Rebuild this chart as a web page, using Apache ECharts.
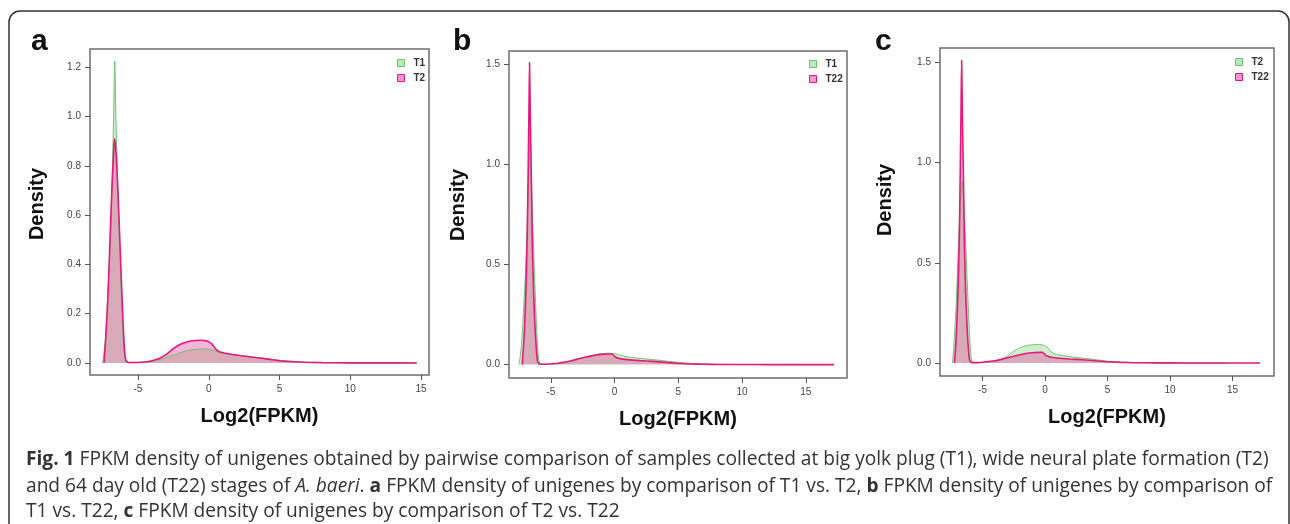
<!DOCTYPE html>
<html>
<head>
<meta charset="utf-8">
<title>FPKM density</title>
<script src="https://cdn.jsdelivr.net/npm/echarts@6/dist/echarts.min.js"></script>
<style>
  html, body { margin: 0; padding: 0; background: #fff; }
  #chart { width: 1290px; height: 524px; }
</style>
</head>
<body>
<div id="chart"></div>
<script>
// density curves, [log2(FPKM), density]
const T1 = [
  [-7.5, 0], [-7.4, 0.04], [-7.3, 0.1], [-7.2, 0.2], [-7.1, 0.32], [-7.0, 0.44],
  [-6.9, 0.6], [-6.8, 0.8], [-6.72, 1.0], [-6.64, 1.225], [-6.56, 1.0], [-6.48, 0.82],
  [-6.4, 0.66], [-6.3, 0.48], [-6.2, 0.32], [-6.1, 0.16], [-6.0, 0.06], [-5.9, 0.015],
  [-5.8, 0.004], [-5.5, 0.001], [-5, 0.002], [-4.5, 0.004], [-4, 0.008], [-3.5, 0.014],
  [-3, 0.022], [-2.5, 0.032], [-2, 0.042], [-1.5, 0.05], [-1, 0.055], [-0.5, 0.057],
  [0, 0.055], [0.4, 0.049], [0.8, 0.041], [1.3, 0.036], [2, 0.031], [3, 0.025],
  [4, 0.018], [5, 0.011], [6, 0.006], [7, 0.003], [8, 0.0015], [9, 0.0007],
  [10, 0.0003], [12, 0.0001], [14.7, 0]
];
const T2 = [
  [-7.4, 0], [-7.3, 0.08], [-7.2, 0.18], [-7.1, 0.3], [-7.0, 0.46], [-6.9, 0.62],
  [-6.8, 0.76], [-6.7, 0.88], [-6.64, 0.91], [-6.55, 0.85], [-6.45, 0.74], [-6.35, 0.6],
  [-6.25, 0.45], [-6.15, 0.3], [-6.05, 0.16], [-5.95, 0.05], [-5.85, 0.01], [-5.7, 0.002],
  [-5, 0.002], [-4.5, 0.004], [-4, 0.009], [-3.5, 0.018], [-3, 0.035], [-2.5, 0.058],
  [-2, 0.076], [-1.5, 0.086], [-1, 0.091], [-0.5, 0.092], [-0.1, 0.088], [0.2, 0.078],
  [0.5, 0.056], [0.8, 0.044], [1.3, 0.038], [2.2, 0.03], [3, 0.024], [3.6, 0.02],
  [4.5, 0.013], [5, 0.009], [6, 0.005], [6.7, 0.003], [8, 0.0012], [10, 0.0004],
  [12, 0.0001], [14.7, 0]
];
const T22 = [
  [-7.25, 0], [-7.15, 0.08], [-7.05, 0.2], [-6.95, 0.38], [-6.85, 0.65], [-6.77, 1.0],
  [-6.72, 1.25], [-6.67, 1.51], [-6.6, 1.2], [-6.53, 0.95], [-6.45, 0.6], [-6.35, 0.36],
  [-6.25, 0.2], [-6.15, 0.09], [-6.05, 0.02], [-5.9, 0.003], [-5.5, 0.002], [-5, 0.004],
  [-4.5, 0.007], [-4, 0.011], [-3.5, 0.018], [-3, 0.026], [-2.5, 0.034], [-2, 0.041],
  [-1.5, 0.047], [-1, 0.051], [-0.5, 0.053], [-0.2, 0.053], [0.05, 0.038], [0.4, 0.03],
  [1, 0.025], [2, 0.02], [3, 0.016], [4, 0.011], [5, 0.006], [6, 0.003], [7, 0.0015],
  [8, 0.0008], [10, 0.0003], [12, 0.0001], [14, 0], [17.2, 0]
];

const xTicks = [-5, 0, 5, 10, 15];
const yTicksA = [0, 0.2, 0.4, 0.6, 0.8, 1.0, 1.2];
const yTicksBC = [0, 0.5, 1.0, 1.5];

// pairs shown in each panel: [green, pink]
const panelNames = ['a', 'b', 'c'];
const panelPairs = [['T1', 'T2'], ['T1', 'T22'], ['T2', 'T22']];
const curves = { T1: T1, T2: T2, T22: T22 };

const GREEN_LINE = '#6cc46c';
const GREEN_FILL = 'rgba(60,190,60,0.35)';
const PINK_LINE = '#e8177f';
const PINK_FILL = 'rgba(236,24,136,0.45)';

const panels = [
  { grid: { left: 90, top: 49, width: 339, height: 326 }, x: [-8.39, 15.56], y: [-0.049, 1.274], yTicks: yTicksA,
    legend: { left: 397, top: 58 }, letter: [31, 57], dens: [37, 204] },
  { grid: { left: 509, top: 51, width: 338, height: 327 }, x: [-8.28, 18.23], y: [-0.067, 1.568], yTicks: yTicksBC,
    legend: { left: 809, top: 59 }, letter: [453, 57], dens: [458, 205] },
  { grid: { left: 940, top: 48, width: 334, height: 328 }, x: [-8.4, 18.32], y: [-0.065, 1.572], yTicks: yTicksBC,
    legend: { left: 1235, top: 57 }, letter: [875, 57], dens: [885, 200] }
];

const tickFont = { fontSize: 10, color: '#444', fontFamily: 'Liberation Sans, Arial, sans-serif' };

const option = {
  animation: false,
  backgroundColor: '#fff',
  grid: panels.map(p => Object.assign({ show: true, borderColor: '#6e6e6e', borderWidth: 1.5 }, p.grid)),
  xAxis: panels.map((p, i) => ({
    type: 'value', gridIndex: i, min: p.x[0], max: p.x[1],
    axisLine: { show: false, onZero: false },
    axisTick: { show: true, length: 5, lineStyle: { color: '#555' }, customValues: xTicks },
    axisLabel: Object.assign({ margin: 9, customValues: xTicks }, tickFont),
    splitLine: { show: false },
    name: 'Log2(FPKM)', nameLocation: 'middle', nameGap: 31,
    nameTextStyle: { fontSize: 20, fontWeight: 'bold', color: '#111', fontFamily: 'Liberation Sans, Arial, sans-serif' }
  })),
  yAxis: panels.map((p, i) => ({
    type: 'value', gridIndex: i, min: p.y[0], max: p.y[1],
    axisLine: { show: false, onZero: false },
    axisTick: { show: true, length: 5, lineStyle: { color: '#555' }, customValues: p.yTicks },
    axisLabel: Object.assign({ margin: 9, customValues: p.yTicks, formatter: v => v.toFixed(1) }, tickFont),
    splitLine: { show: false }
  })),
  legend: panels.map((p, i) => ({
    orient: 'vertical', left: p.legend.left, top: p.legend.top, padding: 0,
    itemWidth: 7, itemHeight: 7, itemGap: 5, selectedMode: false,
    textStyle: { fontSize: 10, fontWeight: 'bold', color: '#333', padding: [0, 0, 0, 4], fontFamily: 'Liberation Sans, Arial, sans-serif' },
    data: [
      { name: panelPairs[i][0], icon: 'rect', itemStyle: { color: GREEN_FILL, borderColor: GREEN_LINE, borderWidth: 1 } },
      { name: panelPairs[i][1], icon: 'rect', itemStyle: { color: PINK_FILL, borderColor: PINK_LINE, borderWidth: 1 } }
    ]
  })),
  series: [],
  graphic: []
};

panelPairs.forEach((pair, i) => {
  option.series.push({
    name: pair[0], type: 'line', xAxisIndex: i, yAxisIndex: i, data: curves[pair[0]],
    showSymbol: false, symbol: 'none', smooth: 0.2,
    lineStyle: { color: GREEN_LINE, width: 1 }, itemStyle: { color: GREEN_LINE },
    areaStyle: { color: GREEN_FILL }
  });
  option.series.push({
    name: pair[1], type: 'line', xAxisIndex: i, yAxisIndex: i, data: curves[pair[1]],
    showSymbol: false, symbol: 'none', smooth: 0.2,
    lineStyle: { color: PINK_LINE, width: 1.6 }, itemStyle: { color: PINK_LINE },
    areaStyle: { color: PINK_FILL }
  });
});

// outer rounded frame
option.graphic.push({
  type: 'rect', shape: { x: 9, y: 11, width: 1280, height: 600, r: 11 },
  style: { fill: 'none', stroke: '#333', lineWidth: 1.5 }, silent: true
});

panels.forEach((p, i) => {
  option.graphic.push({
    type: 'text', x: p.letter[0], y: p.letter[1],
    style: { text: panelNames[i], font: 'bold 30px "Liberation Sans", Arial, sans-serif', fill: '#111', textVerticalAlign: 'bottom' }
  });
  option.graphic.push({
    type: 'text', x: p.dens[0], y: p.dens[1], rotation: Math.PI / 2,
    style: { text: 'Density', font: 'bold 20px "Liberation Sans", Arial, sans-serif', fill: '#111',
      textAlign: 'center', textVerticalAlign: 'middle' }
  });
});

// caption
const capFont = '"Open Sans", sans-serif';
const capSize = 19.15;
const capRich = {
  b: { fontWeight: 'bold', fontSize: capSize, fontFamily: capFont, fill: '#333' },
  i: { fontStyle: 'italic', fontSize: capSize, fontFamily: capFont, fill: '#333' }
};
const captionLines = [
  '{b|Fig. 1} FPKM density of unigenes obtained by pairwise comparison of samples collected at big yolk plug (T1), wide neural plate formation (T2)',
  'and 64 day old (T22) stages of {i|A. baeri}. {b|a} FPKM density of unigenes by comparison of T1 vs. T2, {b|b} FPKM density of unigenes by comparison of',
  'T1 vs. T22, {b|c} FPKM density of unigenes by comparison of T2 vs. T22'
];
const captionY = [460, 487, 512];
captionLines.forEach((t, k) => {
  option.graphic.push({
    type: 'text', x: 26, y: captionY[k],
    style: { text: t, fontSize: capSize, fontFamily: capFont, fill: '#333', textVerticalAlign: 'middle', rich: capRich }
  });
});

const chart = echarts.init(document.getElementById('chart'), null, { renderer: 'canvas' });
chart.setOption(option);
</script>
</body>
</html>
